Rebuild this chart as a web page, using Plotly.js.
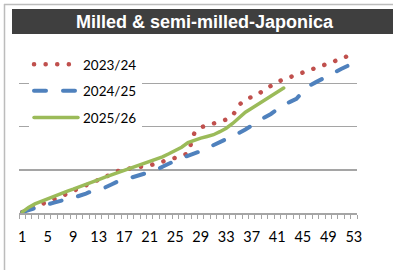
<!DOCTYPE html>
<html><head><meta charset="utf-8">
<script src="https://cdn.plot.ly/plotly-3.0.1.min.js"></script>
<style>
html,body{margin:0;padding:0;background:#fff;}
#chart{width:393px;height:270px;}
path.js-line{stroke-linecap:round;}
</style>
</head><body>
<div id="chart"></div>
<script>
const weeks = Array.from({length:53},(_,i)=>i+1);
const tickVals = [1,5,9,13,17,21,25,29,33,37,41,45,49,53];
const tickText = tickVals.map(String);
const seriesNames = ['2023/24','2024/25','2025/26'];
const s2023 = [0.02,0.08,0.14,0.19,0.25,0.30,0.37,0.44,0.51,0.58,0.65,0.71,0.77,0.83,0.91,0.97,1.01,1.04,1.06,1.08,1.10,1.14,1.18,1.22,1.27,1.32,1.38,1.85,1.98,2.03,2.07,2.11,2.16,2.25,2.50,2.62,2.69,2.75,2.85,2.95,3.03,3.09,3.14,3.19,3.25,3.31,3.36,3.41,3.45,3.51,3.57,3.63,3.68];
const s2024 = [0.02,0.07,0.12,0.16,0.20,0.24,0.29,0.32,0.35,0.39,0.45,0.51,0.55,0.59,0.66,0.73,0.77,0.81,0.86,0.91,0.95,0.99,1.07,1.15,1.21,1.27,1.32,1.37,1.43,1.50,1.57,1.62,1.70,1.78,1.85,1.93,2.03,2.13,2.21,2.29,2.40,2.50,2.57,2.64,2.80,2.94,3.02,3.09,3.17,3.25,3.33,3.40];
const s2025 = [0.02,0.13,0.21,0.27,0.33,0.40,0.45,0.50,0.55,0.60,0.65,0.71,0.77,0.83,0.88,0.93,0.98,1.03,1.08,1.13,1.18,1.24,1.30,1.37,1.44,1.52,1.63,1.69,1.73,1.77,1.81,1.88,1.96,2.07,2.20,2.33,2.42,2.51,2.61,2.70,2.80,2.89];
const colors = ['#c0504d','#4f81bd','#9bbb59'];

const traces = [
  {x:weeks.slice(0,s2023.length), y:s2023, name:seriesNames[0], mode:'lines', legendgroup:'a',
   line:{color:colors[0], width:4.5, dash:'0.1px,11.5px'}},
  {x:weeks.slice(0,s2024.length), y:s2024, name:seriesNames[1], mode:'lines', legendgroup:'b',
   line:{color:colors[1], width:4, dash:'12px,17px'}},
  {x:weeks.slice(0,s2025.length), y:s2025, name:seriesNames[2], mode:'lines', legendgroup:'c',
   line:{color:colors[2], width:3.5}}
];

// plot area: l=19, r=36, t=40, b=57
const L=19, T=40, W=338, H=173;
const px = v => (v-L)/W;
const py = v => (T+H-v)/H;

const layout = {
  width:393, height:270,
  margin:{l:L, r:393-L-W, t:T, b:270-T-H, pad:0},
  paper_bgcolor:'#fff', plot_bgcolor:'rgba(0,0,0,0)',
  title:{text:'Milled & semi-milled-Japonica', font:{family:'Liberation Sans, Arial, sans-serif', size:18, color:'#ffffff', weight:'bold'},
    xref:'container', yref:'container', x:204.5/393, y:1-21.5/270, xanchor:'center', yanchor:'middle'},
  showlegend:true,
  legend:{x:px(29), y:py(49), xanchor:'left', yanchor:'top', bgcolor:'#ffffff', borderwidth:0,
    font:{family:'Lato, sans-serif', size:13.5, color:'#000'}, traceorder:'grouped', tracegroupgap:6, itemwidth:44},
  xaxis:{range:[0.5,53.5], tickmode:'array', tickvals:tickVals, ticktext:tickText, ticks:'', showgrid:false, zeroline:false,
    showline:true, linecolor:'#a5a5a5', linewidth:1.5, fixedrange:true, ticklabelstandoff:10,
    tickfont:{family:'Lato, sans-serif', size:14.5, color:'#000'},
    minor:{tick0:0.5, dtick:1, ticks:'outside', ticklen:4, tickcolor:'#a5a5a5', tickwidth:1, showgrid:false}},
  yaxis:{range:[0,4], dtick:1, showticklabels:false, ticks:'', showgrid:true, gridcolor:'#a5a5a5', gridwidth:1.5,
    zeroline:false, showline:false, fixedrange:true},
  shapes:[
    {type:'rect', xref:'paper', yref:'paper', x0:px(12), x1:px(394), y0:py(34), y1:py(9), fillcolor:'#3f3f3f', line:{width:0}, layer:'below'},
    {type:'line', xref:'paper', yref:'paper', x0:px(4.5), x1:px(4.5), y0:py(4), y1:py(271), line:{color:'#bcbcbc', width:1.5}},
    {type:'line', xref:'paper', yref:'paper', x0:px(4), x1:px(394), y0:py(4.5), y1:py(4.5), line:{color:'#bcbcbc', width:1.5}}
  ]
};
Plotly.newPlot('chart', traces, layout, {staticPlot:true, displayModeBar:false});
</script>
</body></html>
